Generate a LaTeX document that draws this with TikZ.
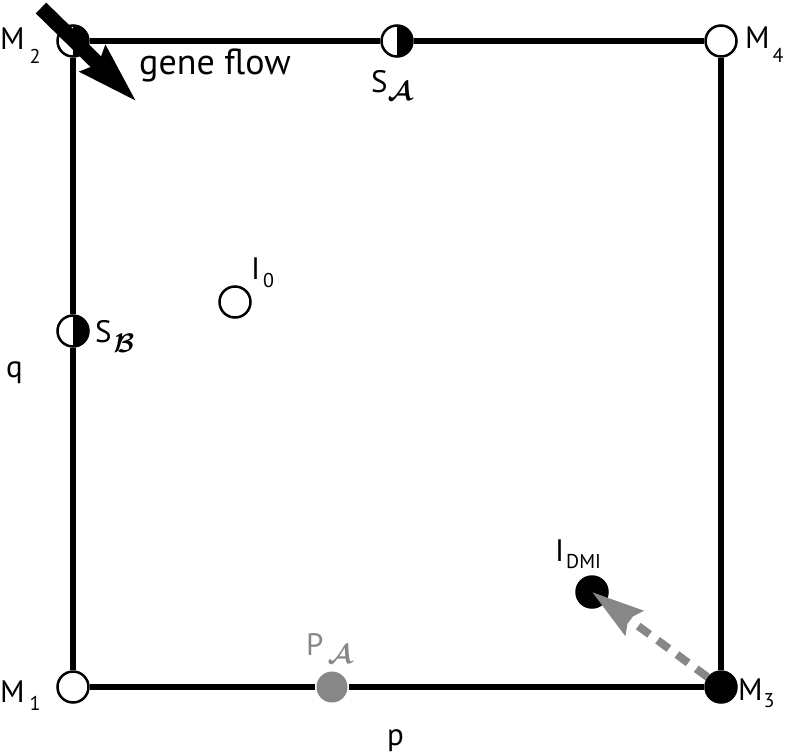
\documentclass[tikz,border=0pt]{standalone}
\usepackage{fontspec}
\setmainfont{PT Sans}
\usetikzlibrary{arrows.meta}
\definecolor{flowgray}{RGB}{135,135,135}
\newcommand\mysub[3]{\hspace{#2}\raisebox{-#3}{\fontsize{20pt}{20pt}\selectfont #1}}
\newcommand\mycal[3]{\hspace{#2}\raisebox{-#3}{\scalebox{1.08}{\boldmath$\mathcal{#1}$}}}
\tikzset{
  basec/.style={circle, minimum size=31pt, inner sep=0pt, line width=2.5pt},
  openc/.style={basec, draw=black, fill=white},
  halfc/.style={basec, draw=black, fill=white,
    path picture={\fill[black] (path picture bounding box.north) rectangle (path picture bounding box.south east);}},
  solidc/.style={basec, draw=black, fill=black},
  grayc/.style={basec, fill=flowgray},
  edge/.style={line width=6pt},
  lbl/.style={anchor=base west, inner sep=0pt, font=\fontsize{31pt}{31pt}\selectfont},
  flowarrow/.style={line width=15pt, -{Stealth[length=60pt,width=34pt,inset=6pt]}},
  dmiarrow/.style={line width=8pt, flowgray, dash pattern=on 14pt off 10pt,
    -{Stealth[length=52pt,width=30pt,inset=7pt]}}
}
\begin{document}
\begin{tikzpicture}[x=1pt,y=-1pt]
\useasboundingbox (0,0) rectangle (797,755);
% nodes
\node[halfc] (M2) at (73,41) {};
\node[halfc] (SA) at (397,41) {};
\node[openc] (M4) at (721,41) {};
\node[halfc] (SB) at (73,331) {};
\node[openc] (I0) at (235,302) {};
\node[openc] (M1) at (73,687) {};
\node[grayc] (PA) at (332,687) {};
\node[solidc] (M3) at (721,687) {};
\node[solidc] (IDMI) at (592,592) {};
% square edges
\draw[edge] (M1) -- (SB);
\draw[edge] (SB) -- (M2);
\draw[edge] (M2) -- (SA);
\draw[edge] (SA) -- (M4);
\draw[edge] (M4) -- (M3);
\draw[edge] (M3) -- (PA);
\draw[edge] (PA) -- (M1);
% arrows
\coordinate (gfS) at (41,8);
\coordinate (gfT) at (137,102);
\draw[flowarrow] (gfS) -- (gfT);
\draw[dmiarrow] (M3) -- (IDMI.center);
% labels
\node[lbl] (lM2) at (0,49) {M\mysub{2}{5pt}{14pt}};
\node[lbl] (lM4) at (745,48) {M\mysub{4}{3pt}{14pt}};
\node[lbl] (lM1) at (0,702) {M\mysub{1}{5pt}{8pt}};
\node[lbl] (lM3) at (738,700) {M\mysub{3}{1pt}{7pt}};
\node[lbl] (lSA) at (371,92) {S\mycal{A}{0pt}{8pt}};
\node[lbl] (lSB) at (95,342) {S\mycal{B}{2pt}{10pt}};
\node[lbl] (lI0) at (251,279) {I\mysub{0}{3pt}{8pt}};
\node[lbl] (lIDMI) at (555,561) {I\mysub{DMI}{2pt}{7pt}};
\node[lbl, text=flowgray] (lPA) at (306,655) {P\mycal{A}{4pt}{8pt}};
\node[lbl] (lq) at (6,377) {q};
\node[lbl] (lp) at (387,745) {p};
\node[lbl, font=\fontsize{36pt}{36pt}\selectfont] (lgf) at (139,74) {gene flow};
\end{tikzpicture}
\end{document}
